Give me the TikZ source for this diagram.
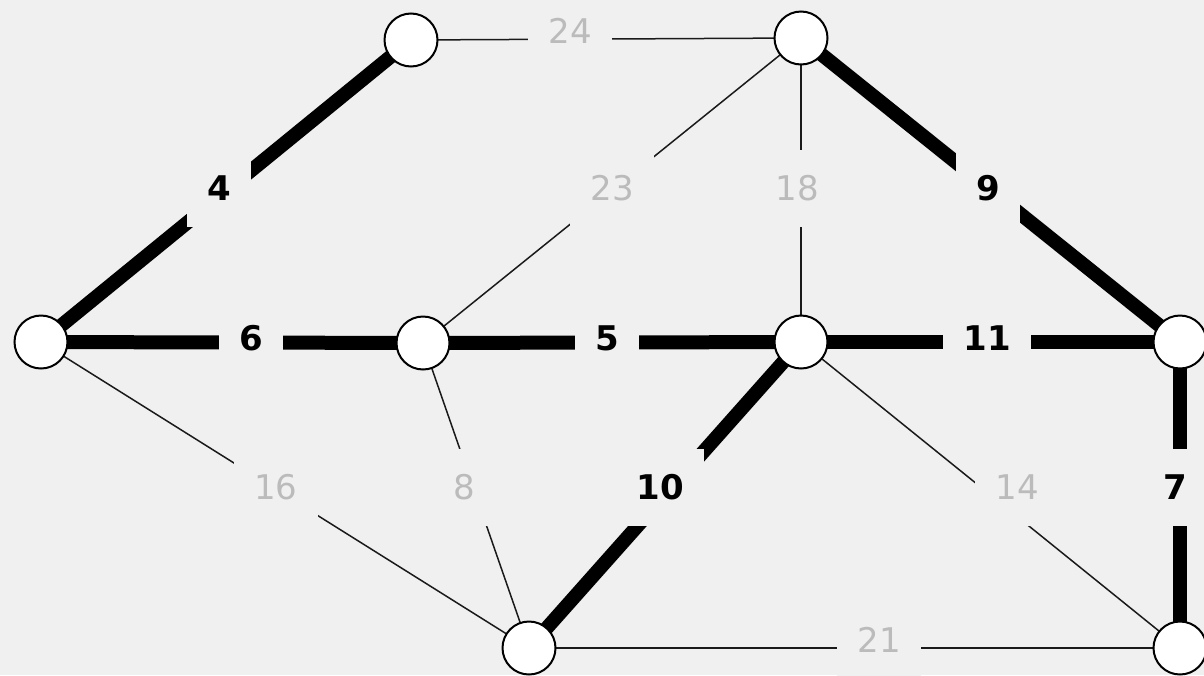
\documentclass[tikz,border=0pt]{standalone}
\usepackage{fontspec}
\setmainfont{DejaVu Sans}
\definecolor{bg}{HTML}{F0F0F0}
\definecolor{lightlab}{HTML}{BBBBBB}
\definecolor{thinline}{HTML}{1A1A1A}
\tikzset{
  vertex/.style={circle, draw=black, line width=2pt, fill=white, minimum size=53pt, inner sep=0pt},
  thinedge/.style={draw=thinline, line width=1.5pt},
  thickedge/.style={draw=black, line width=14pt},
  lab/.style={fill=bg, inner xsep=20pt, inner ysep=26pt, text height=25pt, text depth=0pt, font=\fontsize{34}{40}\selectfont},
  lightlabel/.style={lab, text=lightlab},
  boldlabel/.style={lab, text=black, font=\fontsize{34}{40}\selectfont\bfseries}
}
\begin{document}
\begin{tikzpicture}[x=1pt,y=-1pt]
\fill[bg] (0,0) rectangle (1204,675);
\useasboundingbox (0,0) rectangle (1204,675);
% vertex coordinates
\coordinate (A) at (411,40);
\coordinate (B) at (801,38);
\coordinate (C) at (41,342);
\coordinate (D) at (423,343);
\coordinate (E) at (801,342);
\coordinate (F) at (1180,342);
\coordinate (G) at (529,648);
\coordinate (H) at (1180,648);
% edges
\draw[thinedge] (A) -- (B);
\draw[thickedge] (A) -- (C);
\draw[thinedge] (B) -- (D);
\draw[thinedge] (B) -- (E);
\draw[thickedge] (B) -- (F);
\draw[thickedge] (C) -- (D);
\draw[thickedge] (D) -- (E);
\draw[thickedge] (E) -- (F);
\draw[thinedge] (C) -- (G);
\draw[thinedge] (D) -- (G);
\draw[thickedge] (E) -- (G);
\draw[thinedge] (E) -- (H);
\draw[thickedge] (F) -- (H);
\draw[thinedge] (G) -- (H);
% labels
\node[lightlabel] (l24) at (570,31) {24};
\node[boldlabel] (l4) at (219,188) {4};
\node[lightlabel] (l23) at (612,188) {23};
\node[lightlabel] (l18) at (797,188) {18};
\node[boldlabel] (l9) at (988,188) {9};
\node[boldlabel] (l6) at (251,338) {6};
\node[boldlabel] (l5) at (607,338) {5};
\node[boldlabel] (l11) at (987,338) {11};
\node[lightlabel] (l16) at (276,487) {16};
\node[lightlabel] (l8) at (464,487) {8};
\node[boldlabel] (l10) at (660,487) {10};
\node[lightlabel] (l14) at (1017,487) {14};
\node[boldlabel] (l7) at (1175,487) {7};
\node[lightlabel] (l21) at (879,640) {21};
% vertices
\foreach \v in {A,B,C,D,E,F,G,H} \node[vertex] (n\v) at (\v) {};
\end{tikzpicture}
\end{document}
